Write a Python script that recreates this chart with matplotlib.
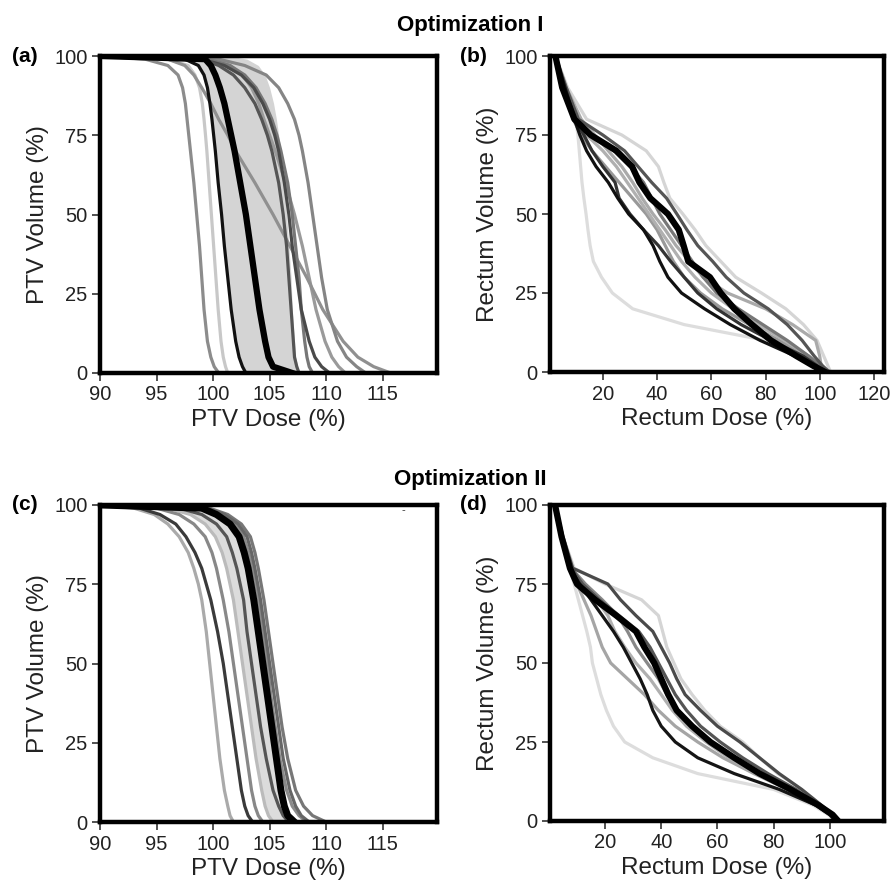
import matplotlib
matplotlib.use("Agg")
import matplotlib.pyplot as plt

plt.rcParams['font.family'] = ['Liberation Sans', 'DejaVu Sans']

# ---------------- data ----------------
# PTV volume levels (%) at which each curve's dose (%) is read
ptv_vol = [100, 99, 97, 94, 90, 85, 80, 75, 70, 60, 50, 40, 30, 20, 10, 5, 2, 0]

# Optimization I, PTV curves (dose % at each ptv_vol level)
a_curves = {
    "#c8c8c8": [90, 96, 97.8, 98.4, 98.8, 99.05, 99.2, 99.33, 99.45, 99.65, 99.85, 100.05, 100.25, 100.45, 100.7, 100.9, 101.1, 101.3],
    "#8c8c8c": [90, 94, 96, 96.9, 97.3, 97.55, 97.7, 97.85, 98.0, 98.3, 98.55, 98.8, 99.0, 99.2, 99.5, 99.8, 100.1, 100.5],
    "#9a9a9a": [90, 100, 101.5, 102.6, 103.4, 104.05, 104.5, 105.0, 105.5, 106.4, 107.2, 107.9, 108.5, 109.1, 109.9, 110.5, 111.1, 111.7],
    "#909090": [90, 96, 97.5, 98.3, 99.0, 99.8, 100.5, 101.3, 102.0, 103.7, 105.3, 106.8, 108.3, 109.7, 111.5, 112.8, 114.2, 115.7],
    "#858585": [90, 100.5, 102.8, 104.7, 105.8, 106.6, 107.2, 107.6, 107.9, 108.4, 108.8, 109.2, 109.6, 110.1, 111.0, 111.8, 112.7, 113.5],
    "#777777": [90, 99.5, 101.5, 102.8, 103.8, 104.6, 105.2, 105.65, 106.0, 106.6, 107.0, 107.3, 107.6, 107.8, 108.1, 108.3, 108.5, 108.8],
    "#4a4a4a": [90, 99, 101, 102.5, 103.6, 104.4, 105.0, 105.45, 105.8, 106.3, 106.7, 107.0, 107.4, 107.8, 108.5, 109.0, 109.6, 110.3],
    "#555555": [90, 99, 100.5, 101.8, 102.8, 103.7, 104.3, 104.8, 105.2, 105.8, 106.2, 106.5, 106.7, 106.9, 107.1, 107.2, 107.4, 107.6],
    "#111111": [90, 97.5, 98.7, 99.2, 99.5, 99.72, 99.9, 100.05, 100.2, 100.45, 100.75, 101.0, 101.3, 101.6, 102.0, 102.3, 102.6, 102.9],
}
a_mean = [90, 99.3, 99.8, 100.2, 100.6, 101.0, 101.3, 101.6, 101.9, 102.4, 102.9, 103.3, 103.7, 104.1, 104.6, 104.9, 105.3, 107.0]
a_band_low = [96.5, 97.6, 98.5, 99.0, 99.4, 99.7, 99.9, 100.05, 100.2, 100.45, 100.75, 101.0, 101.3, 101.6, 102.0, 102.3, 102.6, 102.9]
a_band_high = [101.5, 103.0, 104.0, 104.6, 105.0, 105.35, 105.6, 105.8, 106.0, 106.3, 106.5, 106.7, 106.9, 107.0, 107.2, 107.3, 107.5, 107.6]

# Optimization II, PTV curves
c_curves = {
    "#aaaaaa": [90, 93, 94.8, 96, 97, 97.8, 98.3, 98.7, 99.0, 99.4, 99.7, 100.0, 100.3, 100.6, 101.0, 101.3, 101.5, 101.8],
    "#bbbbbb": [90, 96, 98, 99.3, 100.2, 100.8, 101.2, 101.5, 101.8, 102.2, 102.6, 103.0, 103.4, 103.8, 104.3, 104.6, 104.9, 105.3],
    "#888888": [90, 95, 97, 98.3, 99.3, 99.9, 100.3, 100.6, 100.9, 101.4, 101.8, 102.2, 102.6, 103.0, 103.4, 103.7, 104.0, 104.4],
    "#777777": [90, 99.7, 101.3, 102.5, 103.3, 103.7, 104.0, 104.25, 104.5, 104.9, 105.3, 105.7, 106.1, 106.6, 107.3, 108.0, 108.8, 110.0],
    "#8a8a8a": [90, 99, 100.8, 101.9, 102.7, 103.15, 103.5, 103.75, 104.0, 104.4, 104.8, 105.1, 105.5, 105.9, 106.5, 107.0, 107.6, 108.3],
    "#666666": [90, 99.5, 101, 102.2, 103.0, 103.4, 103.7, 103.95, 104.2, 104.6, 105.0, 105.4, 105.8, 106.2, 106.8, 107.3, 107.8, 108.5],
    "#555555": [90, 97, 99, 100.3, 101.2, 101.7, 102.1, 102.4, 102.7, 103.0, 103.4, 103.8, 104.2, 104.7, 105.3, 105.8, 106.2, 106.7],
    "#3a3a3a": [90, 93.5, 95.3, 96.7, 97.6, 98.4, 99.0, 99.4, 99.8, 100.4, 100.9, 101.3, 101.7, 102.1, 102.5, 102.8, 103.1, 103.5],
}
c_mean = [90, 99, 100.3, 101.5, 102.3, 102.75, 103.1, 103.35, 103.6, 104.0, 104.4, 104.8, 105.2, 105.6, 106.0, 106.3, 106.6, 107.2]
c_band_low = [90, 96, 98, 99.3, 100.2, 100.8, 101.2, 101.5, 101.8, 102.2, 102.6, 103.0, 103.4, 103.8, 104.3, 104.6, 104.9, 105.3]

# Rectum volume levels (%)
rect_vol = [100, 90, 80, 75, 70, 65, 60, 55, 50, 45, 40, 35, 30, 25, 20, 15, 10, 5, 2, 0]

b_curves = {
    "#dddddd": [2.5, 6.5, 10, 10.8, 11.3, 11.8, 12.3, 13, 13.8, 14.5, 15.3, 16.5, 19.5, 23.5, 31, 50, 80, 93, 99, 102],
    "#d5d5d5": [2.5, 7, 14, 27, 36, 40.5, 42.5, 44.7, 49.5, 54, 58, 63.5, 69, 78.5, 87.5, 94, 99, 101.5, 103, 104],
    "#aaaaaa": [2.5, 6.5, 12, 17, 22, 27, 31, 34.5, 38.5, 43, 47, 52, 57, 66, 80, 90, 98.5, 100, 100.5, 101],
    "#999999": [2.5, 6, 9, 12, 16, 21, 26, 31, 36, 40, 43, 46, 50, 56, 64, 74, 85, 95, 100, 104],
    "#b0b0b0": [2.5, 6, 9.5, 14, 20, 25, 29, 33, 37, 41, 45, 49, 54, 60, 68, 77, 87, 96, 100, 103],
    "#777777": [2.5, 6, 10.5, 16, 24, 30, 35, 38, 41, 45, 49, 53, 57, 62, 70, 79, 88, 96, 100, 103],
    "#555555": [2.5, 6.5, 11, 20, 28, 33, 38, 43.5, 47.3, 51, 55, 60.5, 65.5, 72, 81, 88, 93.5, 98, 101, 103.5],
    "#333333": [2.5, 6, 9.8, 13, 16, 20, 24.5, 26, 30, 35, 40.5, 45, 50, 55, 62, 71, 82, 94, 99, 102],
    "#111111": [2.5, 6, 9.5, 11.5, 14, 17.5, 22, 25.5, 29.5, 35, 38.5, 41, 44, 49, 57.5, 67, 78, 91, 97, 100.5],
}
b_mean = [2.5, 5, 9.5, 15.5, 25, 30.8, 33.5, 37.5, 44, 48, 49.8, 51.5, 59.5, 63.5, 68.5, 75, 82, 91.5, 97.5, 102]

d_curves = {
    "#dddddd": [2.2, 4.5, 7.5, 9, 10.5, 12, 13.5, 14.8, 15.5, 17, 18.5, 20.5, 23, 27, 37, 53, 80, 94, 99.5, 102],
    "#d5d5d5": [2.2, 5, 9, 20, 33, 39, 40.5, 42, 44.5, 47, 51, 55.5, 61, 69, 75, 81.5, 90, 97, 101, 103],
    "#a5a5a5": [2.2, 4.5, 8, 10, 12.5, 15, 17, 19, 22, 28, 34, 39, 45, 53, 62, 73, 85, 95, 100, 102],
    "#b0b0b0": [2.2, 4.5, 8, 12, 17, 21, 23.5, 27, 31, 36, 40, 44, 49, 56, 64, 74, 86, 96, 101, 103],
    "#888888": [2.2, 4.5, 8, 13, 19, 24.5, 28, 31, 35, 39, 42, 46, 51, 58, 66, 76, 87, 96, 101, 103],
    "#555555": [2.2, 4.5, 8, 12, 18, 25, 32, 36, 39, 42, 45, 49, 54, 61, 69, 78, 88, 96, 100.5, 102.5],
    "#4a4a4a": [2.2, 5, 8.5, 21, 25.5, 31, 37, 40, 43, 45.5, 48.5, 54, 60, 68, 75, 82, 90, 97, 101, 103],
    "#151515": [2.2, 4.5, 7.5, 11, 15, 19, 23, 26.5, 29.5, 32.5, 35, 37, 40, 45, 53, 66, 82, 95, 100, 102],
}
d_mean = [2.2, 4.5, 7.5, 10, 16.5, 24, 31, 34, 37.5, 40, 42.5, 45.5, 51, 57.5, 66, 75, 86, 96, 101, 103]

ptv_xticks = [90, 95, 100, 105, 110, 115]
vol_yticks = [0, 25, 50, 75, 100]
b_xticks = [20, 40, 60, 80, 100, 120]
d_xticks = [20, 40, 60, 80, 100]

# ---------------- figure ----------------
W, H = 892, 885
fig = plt.figure(figsize=(W / 100, H / 100), dpi=100)


def make_ax(l, t, r, b):
    return fig.add_axes([l / W, 1 - b / H, (r - l) / W, (b - t) / H])


ax_a = make_ax(100, 56, 437, 373)
ax_b = make_ax(550, 56, 884, 372)
ax_c = make_ax(100, 505, 437, 822)
ax_d = make_ax(550, 505, 884, 821)

thin = 2.3
thick = 4.5
lab_fs = 17.5

# (a)
ax_a.fill_betweenx(ptv_vol, a_band_low, a_band_high, color="#d4d4d4", lw=0, zorder=1)
for col, dose in a_curves.items():
    ax_a.plot(dose, ptv_vol, color=col, lw=thin, solid_joinstyle="round", zorder=2)
ax_a.plot(a_mean, ptv_vol, color="black", lw=thick, solid_joinstyle="round", zorder=3)

# (c)
ax_c.fill_betweenx(ptv_vol, c_band_low, c_mean, color="#dcdcdc", lw=0, zorder=1)
for col, dose in c_curves.items():
    ax_c.plot(dose, ptv_vol, color=col, lw=thin, solid_joinstyle="round", zorder=2)
ax_c.plot(c_mean, ptv_vol, color="black", lw=thick + 0.5, solid_joinstyle="round", zorder=3)
ax_c.text(116.8, 98.5, "-", fontsize=8, color="#333333", ha="center", va="center")

# (b)
for col, dose in b_curves.items():
    ax_b.plot(dose, rect_vol, color=col, lw=thin, solid_joinstyle="round", zorder=2)
ax_b.plot(b_mean, rect_vol, color="black", lw=thick, solid_joinstyle="round", zorder=3)

# (d)
for col, dose in d_curves.items():
    ax_d.plot(dose, rect_vol, color=col, lw=thin, solid_joinstyle="round", zorder=2)
ax_d.plot(d_mean, rect_vol, color="black", lw=thick, solid_joinstyle="round", zorder=3)

for ax in (ax_a, ax_c):
    ax.set_xlim(90, 119.8)
    ax.set_xticks(ptv_xticks)
    ax.set_xlabel("PTV Dose (%)", fontsize=lab_fs, color="#222222", labelpad=3)
    ax.set_ylabel("PTV Volume (%)", fontsize=lab_fs, color="#222222", labelpad=4)

ax_b.set_xlim(0.5, 123.7)
ax_b.set_xticks(b_xticks)
ax_d.set_xlim(0.4, 119.3)
ax_d.set_xticks(d_xticks)
for ax in (ax_b, ax_d):
    ax.set_xlabel("Rectum Dose (%)", fontsize=lab_fs, color="#222222", labelpad=3)
    ax.set_ylabel("Rectum Volume (%)", fontsize=lab_fs, color="#222222", labelpad=4)

for ax in (ax_a, ax_b, ax_c, ax_d):
    ax.set_ylim(0, 100)
    ax.set_yticks(vol_yticks)
    for s in ax.spines.values():
        s.set_linewidth(3.2)
        s.set_color("black")
    ax.tick_params(axis="both", which="major", direction="out", length=6, width=1.2,
                   labelsize=14.5, colors="#333333", pad=3,
                   top=False, right=False)
    ax.tick_params(labelcolor="#222222")

# panel labels
for ax, lab, xo in ((ax_a, "(a)", -0.262), (ax_b, "(b)", -0.268),
                    (ax_c, "(c)", -0.262), (ax_d, "(d)", -0.268)):
    ax.text(xo, 1.0, lab, transform=ax.transAxes, fontsize=15, fontweight="bold",
            ha="left", va="center")

fig.text(470 / W, 1 - 26 / H, "Optimization I", fontsize=16, fontweight="bold",
         ha="center", va="center")
fig.text(470 / W, 1 - 480 / H, "Optimization II", fontsize=16, fontweight="bold",
         ha="center", va="center")

fig.savefig("out.png", dpi=100)
